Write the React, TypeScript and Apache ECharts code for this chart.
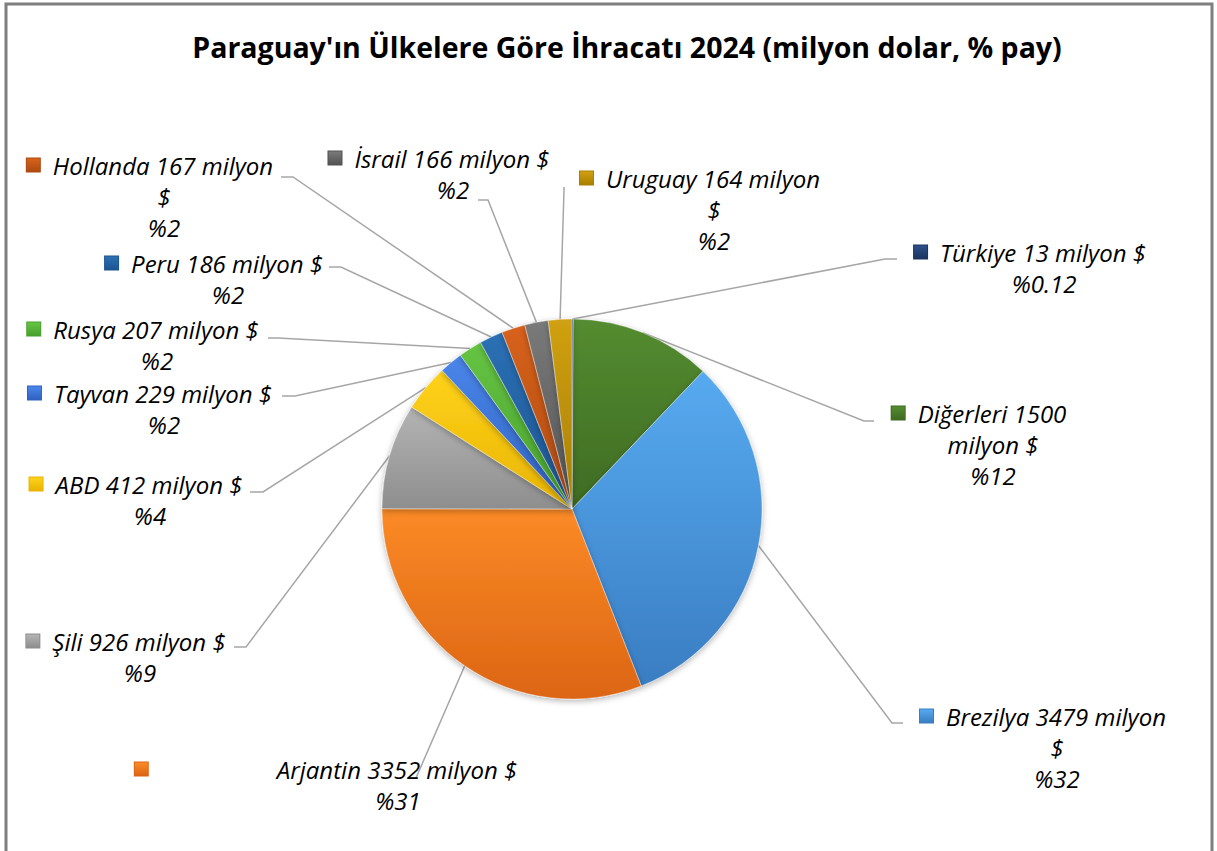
import React, { useEffect, useRef } from "react";
import * as echarts from "echarts";

// ---- data ----
const TITLE = "Paraguay'ın Ülkelere Göre İhracatı 2024 (milyon dolar, % pay)";
const countries = ["Türkiye", "Diğerleri", "Brezilya", "Arjantin", "Şili", "ABD", "Tayvan", "Rusya", "Peru", "Hollanda", "İsrail", "Uruguay"];
const amounts = [13, 1500, 3479, 3352, 926, 412, 229, 207, 186, 167, 166, 164]; // milyon $
const shares = [0.12, 12, 32, 31, 9, 4, 2, 2, 2, 2, 2, 2]; // % pay (slice sizes)
const UNIT = ["milyon", "$"];

// ---- styles ----
const sliceColors: [string, string][] = [
  ["#2d4f8a", "#1c355f"],
  ["#548c30", "#3f6b23"],
  ["#57aaf0", "#3a7dc2"],
  ["#fb8a26", "#dc6514"],
  ["#b4b4b4", "#8e8e8e"],
  ["#ffd21c", "#e8b400"],
  ["#4a86ea", "#2f62c0"],
  ["#66c444", "#47a02c"],
  ["#2b70b5", "#1d5591"],
  ["#d8621c", "#ad4a10"],
  ["#7a7a7a", "#535353"],
  ["#d0a012", "#a98000"],
];

// label placement: text centre x, first line centre y, leader kink & end, words on first line, marker+gap width
const labelSpots = [
  { tx: 1044, ty: 252, kink: [885, 259], end: [897, 259], first: 4, gap: 28 },
  { tx: 993, ty: 413, kink: [864, 421], end: [874, 421], first: 2, gap: 28 },
  { tx: 1057, ty: 716, kink: [892, 723], end: [903, 723], first: 3, gap: 28 },
  { tx: 398, ty: 769, kink: [416, 778], end: [407, 778], first: 4, gap: 144 },
  { tx: 140, ty: 641, kink: [246, 647], end: [234, 647], first: 4, gap: 28 },
  { tx: 150, ty: 484, kink: [263, 492], end: [250, 492], first: 4, gap: 28 },
  { tx: 164, ty: 393, kink: [295, 396], end: [282, 396], first: 4, gap: 28 },
  { tx: 157, ty: 329, kink: [278, 338], end: [268, 338], first: 4, gap: 28 },
  { tx: 228, ty: 263, kink: [341, 267], end: [329, 267], first: 4, gap: 28 },
  { tx: 164, ty: 165, kink: [293, 177], end: [281, 177], first: 3, gap: 28 },
  { tx: 453, ty: 158, kink: [488, 200], end: [478, 200], first: 4, gap: 28 },
  { tx: 714, ty: 178, kink: [564, 190], end: [564, 187], first: 3, gap: 28 },
];

const LINE_H = 31;
const MARK = 15;
const FONT = "'Open Sans', Lato, sans-serif";

function grad(c: [string, string]) {
  return new echarts.graphic.LinearGradient(0, 0, 0, 1, [
    { offset: 0, color: c[0] },
    { offset: 1, color: c[1] },
  ]);
}

export default function App() {
  const ref = useRef<HTMLDivElement>(null);
  useEffect(() => {
    if (!ref.current) return;
    const chart = echarts.init(ref.current, undefined, { renderer: "svg" });

    const rich: Record<string, any> = {
      t: { fontFamily: FONT, fontStyle: "italic", fontSize: 24, color: "#000", lineHeight: LINE_H },
    };
    countries.forEach((_, i) => {
      const c = sliceColors[i];
      rich["m" + i] = {
        width: MARK - 2,
        height: MARK - 2,
        backgroundColor: grad(c),
        borderColor: c[1],
        borderWidth: 1,
        lineHeight: LINE_H,
      };
      rich["g" + i] = { width: labelSpots[i].gap - MARK, lineHeight: LINE_H };
      rich["p" + i] = { width: labelSpots[i].gap, lineHeight: LINE_H };
    });

    const data = countries.map((name, i) => ({
      name,
      value: shares[i],
      itemStyle: { color: grad(sliceColors[i]) },
    }));

    chart.setOption({
      animation: false,
      backgroundColor: "#ffffff",
      title: {
        text: TITLE,
        left: 622,
        top: 27,
        textAlign: "center",
        textStyle: { fontFamily: FONT, fontWeight: "bold", fontSize: 28.5, color: "#000" },
      },
      graphic: [
        {
          type: "rect",
          shape: { x: 6, y: 4, width: 1206, height: 920 },
          style: { fill: "none", stroke: "#7f7f7f", lineWidth: 3 },
          silent: true,
        },
      ],
      series: [
        {
          type: "pie",
          center: [572, 509],
          radius: 190,
          startAngle: 90,
          clockwise: true,
          silent: true,
          emphasis: { disabled: true },
          itemStyle: {
            borderColor: "rgba(255,255,255,0.35)",
            borderWidth: 1,
            shadowBlur: 6,
            shadowColor: "rgba(0,0,0,0.3)",
            shadowOffsetY: 2,
          },
          label: {
            show: true,
            position: "outside",
            color: "#000",
            align: "center",
            rich,
            formatter: (p: any) => {
              const i = p.dataIndex;
              const words = [countries[i], String(amounts[i]), ...UNIT];
              const n = labelSpots[i].first;
              const lines: string[] = [];
              lines.push(`{m${i}|}{g${i}|}{t|${words.slice(0, n).join(" ")}}`);
              if (n < words.length) lines.push(`{p${i}|}{t|${words.slice(n).join(" ")}}`);
              lines.push(`{p${i}|}{t|%${shares[i]}}`);
              return lines.join("\n");
            },
          },
          labelLine: {
            show: true,
            length: 20,
            length2: 10,
            lineStyle: { color: "#a6a6a6", width: 1.5 },
          },
          labelLayout: (params: any) => {
            const s = labelSpots[params.dataIndex];
            const pts = params.labelLinePoints;
            const out: any = {
              x: s.tx - s.gap / 2,
              y: s.ty - LINE_H / 2,
              align: "center",
              verticalAlign: "top",
            };
            if (pts && pts[0]) out.labelLinePoints = [pts[0], s.kink, s.end];
            return out;
          },
          data,
        },
      ],
    });
    return () => chart.dispose();
  }, []);
  return (
    <div
      ref={ref}
      style={{ position: "fixed", left: 0, top: 0, width: 1217, height: 851, background: "#fff" }}
    />
  );
}
